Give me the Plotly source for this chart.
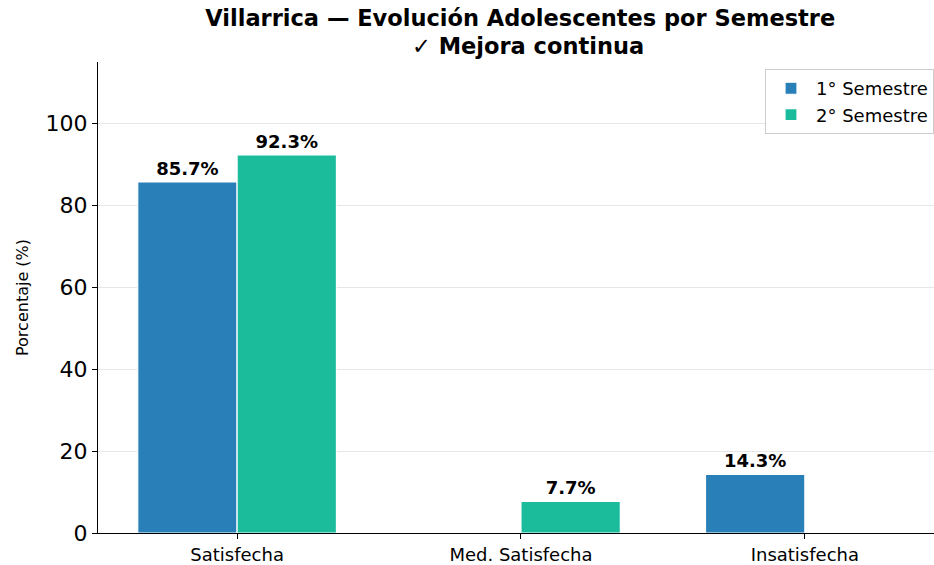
import plotly.graph_objects as go

categorias = ["Satisfecha", "Med. Satisfecha", "Insatisfecha"]
sem1 = [85.7, 0.0, 14.3]
sem2 = [92.3, 7.7, 0.0]
y_ticks = [0, 20, 40, 60, 80, 100]

AZUL = "#2980b9"
VERDE = "#1abc9c"


def etiquetas(vals):
    # Only label bars that have a value
    return [f"{v:.1f}%" if v > 0 else "" for v in vals]


fig = go.Figure()
x_pos = list(range(len(categorias)))

for nombre, vals, color in [("1° Semestre", sem1, AZUL), ("2° Semestre", sem2, VERDE)]:
    fig.add_trace(go.Bar(
        x=x_pos, y=vals, name=nombre,
        marker=dict(color=color, line=dict(color="white", width=1.2)),
        text=etiquetas(vals), textposition="outside",
        textfont=dict(family="DejaVu Sans", size=18, color="black", weight="bold"),
        cliponaxis=False,
    ))

fig.update_layout(
    width=934, height=565,
    barmode="group", bargap=0.3, bargroupgap=0,
    plot_bgcolor="white", paper_bgcolor="white",
    margin=dict(l=98, r=0, t=62, b=32),
    font=dict(family="DejaVu Sans", color="black"),
    title=dict(
        text="<b>Villarrica — Evolución Adolescentes por Semestre</b>",
        x=0.557, xanchor="center", y=1 - 18 / 565, yref="container", yanchor="middle",
        font=dict(size=22.5, color="black"),
    ),
    legend=dict(
        x=1.0, y=0.985, xanchor="right", yanchor="top",
        bgcolor="rgba(255,255,255,0.9)", bordercolor="#cccccc", borderwidth=1,
        font=dict(size=18), traceorder="normal", itemwidth=40,
        tracegroupgap=0,
    ),
)

# second title line
fig.add_annotation(
    text="<b>✓ Mejora continua</b>", xref="paper", yref="paper",
    x=0.514, y=1.035, yanchor="middle", showarrow=False,
    font=dict(size=22.5, color="black"),
)

fig.update_xaxes(
    tickmode="array", tickvals=x_pos, ticktext=categorias,
    range=[-0.49, 2.455],
    showline=True, linecolor="black", linewidth=1.2,
    ticks="outside", ticklen=5, tickcolor="black",
    tickfont=dict(size=18), showgrid=False,
)
fig.update_yaxes(
    range=[0, 115], tickvals=y_ticks,
    showline=True, linecolor="black", linewidth=1.2,
    ticks="outside", ticklen=5, tickcolor="black",
    tickfont=dict(size=22),
    showgrid=True, gridcolor="#e6e6e6", gridwidth=1,
    zeroline=False,
    title=dict(text="Porcentaje (%)", font=dict(size=16, family="DejaVu Sans"), standoff=12),
)

fig.write_html("out.html", config={"displayModeBar": False},
               post_script="document.body.style.margin='0';")
